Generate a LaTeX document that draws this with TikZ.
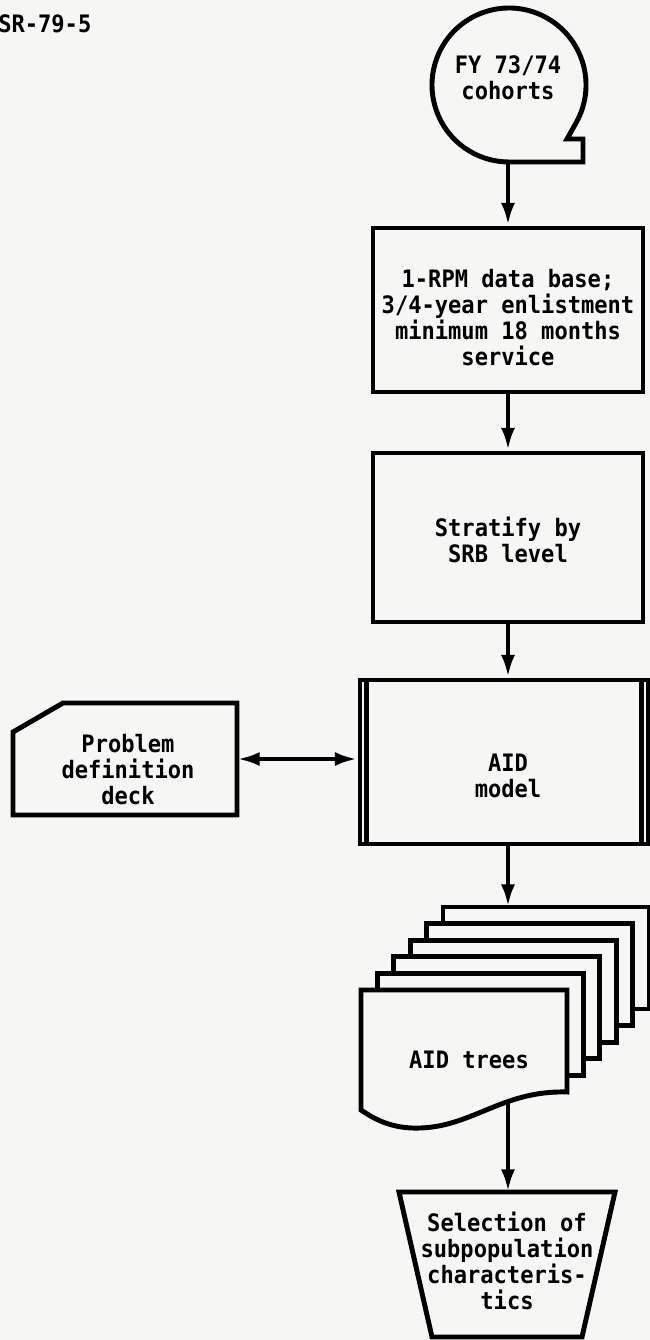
\documentclass[tikz,border=0pt]{standalone}
\usepackage{fontspec}
\newfontfamily\lgfont[FakeStretch=0.92]{DejaVu Sans Mono}
\usetikzlibrary{arrows.meta}
\definecolor{paper}{RGB}{246,246,245}
\tikzset{
  ln/.style={line width=3.7pt, line join=miter},
  shp/.style={ln, draw=black, fill=paper},
  txt/.style={font=\lgfont\bfseries\fontsize{18}{19.5}\selectfont, align=center, inner sep=0pt},
  arr/.style={ln, -{Latex[length=17pt,width=10.5pt]}},
  darr/.style={ln, {Latex[length=17pt,width=10.5pt]}-{Latex[length=17pt,width=10.5pt]}},
  rbox/.style={shp, rectangle, inner sep=0pt, minimum width=202.5pt},
}
\begin{document}
\begin{tikzpicture}[x=0.75pt,y=-0.75pt]
\fill[paper] (0,0) rectangle (650,1340);
\useasboundingbox (0,0) rectangle (650,1340);

% header
\node[txt, anchor=base west] (hdr) at (-2,32) {SR-79-5};

% magnetic tape
\draw[shp] (575.7,123.5) arc[start angle=30, end angle=-270, radius=77]
  -- (583,162) -- (583,139) -- (567,139) -- cycle;
\node[txt] (tape) at (508,78) {FY 73/74\\cohorts};
\coordinate (tapeb) at (508,162);

% process boxes
\node[rbox, minimum height=123pt] (box1) at (508,310) {};
\node[txt] (box1t) at (508,318) {1-RPM data base;\\3/4-year enlistment\\minimum 18 months\\service};
\node[rbox, minimum height=126.75pt] (box2) at (508,537.5) {};
\node[txt] (box2t) at (508,540) {Stratify by\\SRB level};

% predefined process
\node[shp, rectangle, inner sep=0pt, minimum width=216pt, minimum height=123pt] (aid) at (504,762) {};
\draw[ln] ([xshift=7pt]aid.north west) -- ([xshift=7pt]aid.south west);
\draw[ln] ([xshift=-7pt]aid.north east) -- ([xshift=-7pt]aid.south east);
\node[txt] (aidt) at (508,776) {AID\\model};

% card
\draw[shp] (13,815) -- (13,732) -- (63,703) -- (237,703) -- (237,815) -- cycle;
\node[txt] (prob) at (128,770) {Problem\\definition\\deck};
\coordinate (probE) at (237,759);

% multiple documents
\foreach \k in {5,4,3,2,1}{
  \draw[shp] ({361+16.4*\k},{990-16.6*\k}) rectangle ++(206,102);
}
\draw[shp] (361,1110) -- (361,990) -- (567,990) -- (567,1092)
  .. controls (500,1090) and (470,1130) .. (412,1128)
  .. controls (388,1127) and (373,1118) .. (361,1110) -- cycle;
\node[txt] (trees) at (469,1060) {AID trees};
\coordinate (treesb) at (508,1102);

% manual operation
\draw[shp] (399,1192) -- (615,1192) -- (582,1337) -- (432,1337) -- cycle;
\node[txt] (sel) at (507,1261) {Selection of\\subpopulation\\characteris-\\tics};
\coordinate (selt) at (508,1192);

% connectors
\draw[arr] (tapeb) -- (box1.north);
\draw[arr] (box1.south) -- (box2.north);
\draw[arr] (box2.south) -- (box2.south |- aid.north);
\draw[darr] (probE) -- (probE -| aid.west);
\draw[arr] (box2.south |- aid.south) -- (508,907);
\draw[arr] (treesb) -- (selt);
\end{tikzpicture}
\end{document}
